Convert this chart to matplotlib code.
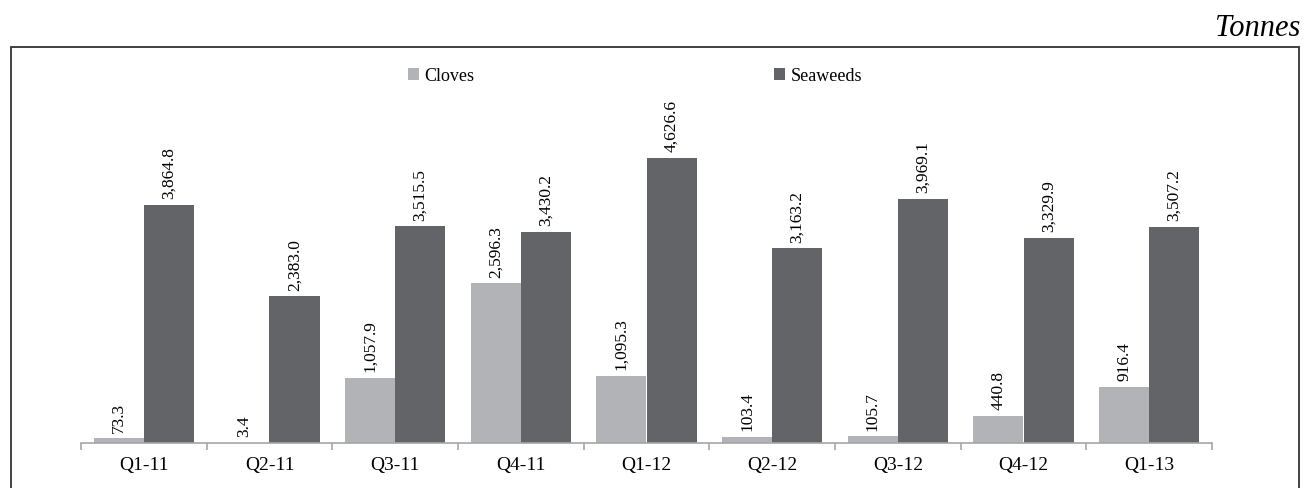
import numpy as np
import matplotlib.pyplot as plt
from matplotlib.patches import Rectangle

plt.rcParams['font.family'] = ['Liberation Serif', 'DejaVu Serif']

quarters = ['Q1-11', 'Q2-11', 'Q3-11', 'Q4-11', 'Q1-12', 'Q2-12', 'Q3-12', 'Q4-12', 'Q1-13']
cloves = [73.3, 3.4, 1057.9, 2596.3, 1095.3, 103.4, 105.7, 440.8, 916.4]
seaweeds = [3864.8, 2383.0, 3515.5, 3430.2, 4626.6, 3163.2, 3969.1, 3329.9, 3507.2]

c_light = '#b1b3b6'
c_dark = '#636467'

W, H = 1304, 488
fig = plt.figure(figsize=(W / 100, H / 100), dpi=100)
ax = fig.add_axes([81 / W, (H - 443) / H, 1131 / W, 383 / H])

x = np.arange(len(quarters))
w = 0.4
b1 = ax.bar(x - w / 2, cloves, w, color=c_light, label='Cloves')
b2 = ax.bar(x + w / 2, seaweeds, w, color=c_dark, label='Seaweeds')

for bars, vals in ((b1, cloves), (b2, seaweeds)):
    for r, v in zip(bars, vals):
        ax.annotate(f'{v:,.1f}', (r.get_x() + r.get_width() / 2, r.get_height()),
                    xytext=(0, 4), textcoords='offset points', rotation=90,
                    ha='center', va='bottom', fontsize=12.5)

ax.set_xlim(-0.5, len(quarters) - 0.5)
ax.set_ylim(0, 6218)
ax.set_yticks([])
for s in ['top', 'right', 'left']:
    ax.spines[s].set_visible(False)
ax.spines['bottom'].set_color('#a6a6a6')
ax.spines['bottom'].set_linewidth(1.2)

ax.set_xticks(np.arange(len(quarters) + 1) - 0.5)
ax.set_xticklabels([])
ax.tick_params(axis='x', which='major', length=5, color='#a6a6a6', width=1.2)
ax.set_xticks(x, minor=True)
ax.set_xticklabels(quarters, minor=True, fontsize=14)
ax.tick_params(axis='x', which='minor', length=0, pad=10)

ax.legend(loc='center', bbox_to_anchor=(0.49, 0.958), ncol=2, frameon=False,
          fontsize=13, handlelength=0.6, handleheight=0.6, handletextpad=0.3,
          columnspacing=16.6, borderpad=0, borderaxespad=0)

fig.patches.append(Rectangle((11 / W, -0.1), 1288 / W, 1.1 - 47 / H,
                             transform=fig.transFigure, fill=False,
                             edgecolor='#333333', linewidth=1.3))
fig.text(1300 / W, (H - 36) / H, 'Tonnes', ha='right', va='baseline',
         fontsize=22, style='italic')

fig.savefig('out.png', dpi=100)
